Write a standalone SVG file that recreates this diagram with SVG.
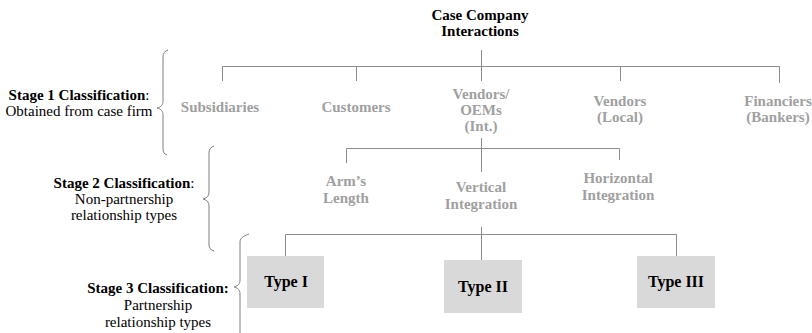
<svg xmlns="http://www.w3.org/2000/svg" width="812" height="333" viewBox="0 0 812 333" font-family="'Liberation Serif', 'Times New Roman', serif">
<style>
text{font-family:'Liberation Serif','Times New Roman',serif;font-size:15px;text-anchor:middle}
.t{font-weight:bold;fill:#000}
.g{font-weight:bold;fill:#a0a0a0}
.l{fill:#000}
.b{font-weight:bold}
.ln{stroke:#8c8c8c;stroke-width:1;fill:none}
.br{stroke:#7f7f7f;stroke-width:1;fill:none}
.box{fill:#d9d9d9}
.bx{font-weight:bold;fill:#000;font-size:16px}
</style>
<rect width="812" height="333" fill="#fff"/>
<g id="root"><text class="t" x="480" y="20">Case Company</text><text class="t" x="480" y="36">Interactions</text></g>
<g id="connectors">
<path class="ln" d="M481.5 50V81M222.5 81V66.5H779.5V83M356.5 66V81M620.5 66V81"/>
<path class="ln" d="M481.5 138V172M346.5 163V148.5H619.5V160"/>
<path class="ln" d="M481.5 227V260M285.5 256V234.5H676.5V256"/>
</g>
<g id="subsidiaries"><text class="g" x="220" y="112">Subsidiaries</text></g>
<g id="customers"><text class="g" x="356" y="112">Customers</text></g>
<g id="vendors-int"><text class="g" x="481" y="99">Vendors/</text><text class="g" x="481" y="115">OEMs</text><text class="g" x="481" y="131">(Int.)</text></g>
<g id="vendors-local"><text class="g" x="620" y="106">Vendors</text><text class="g" x="620" y="122">(Local)</text></g>
<g id="financiers"><text class="g" x="778" y="106">Financiers</text><text class="g" x="778" y="122">(Bankers)</text></g>
<g id="arms-length"><text class="g" x="346" y="186">Arm’s</text><text class="g" x="346" y="203">Length</text></g>
<g id="vertical-integration"><text class="g" x="481" y="192">Vertical</text><text class="g" x="481" y="209">Integration</text></g>
<g id="horizontal-integration"><text class="g" x="618" y="183">Horizontal</text><text class="g" x="618" y="200">Integration</text></g>
<g id="type1"><rect class="box" x="247" y="256" width="77" height="52"/><text class="bx" x="286" y="287">Type I</text></g>
<g id="type2"><rect class="box" x="444" y="260" width="78" height="53"/><text class="bx" x="483" y="292">Type II</text></g>
<g id="type3"><rect class="box" x="637" y="256" width="78" height="52"/><text class="bx" x="676" y="287">Type III</text></g>
<g id="stage1"><text class="l" x="79" y="100"><tspan class="b">Stage 1 Classification</tspan>:</text><text class="l" x="79" y="116">Obtained from case firm</text>
<path class="br" d="M168 50C165 51 163 53 163 57V101C163 105 161 107 157 108C161 109 163 111 163 115V149C163 152 164 154 167 155"/></g>
<g id="stage2"><text class="l" x="124" y="188"><tspan class="b">Stage 2 Classification</tspan>:</text><text class="l" x="124" y="204">Non-partnership</text><text class="l" x="124" y="220">relationship types</text>
<path class="br" d="M214 146C211 147 209 149 209 153V192C209 196 207 198 203 199C207 200 209 202 209 206V245C209 248 211 250 214 251"/></g>
<g id="stage3"><text class="l" x="158" y="293"><tspan class="b">Stage 3 Classification:</tspan></text><text class="l" x="158" y="310">Partnership</text><text class="l" x="158" y="327">relationship types</text>
<path class="br" d="M249 234C246 235 240 237 240 242V280C240 284 238 286 234 287C238 288 240 290 240 294V333"/></g>
</svg>
